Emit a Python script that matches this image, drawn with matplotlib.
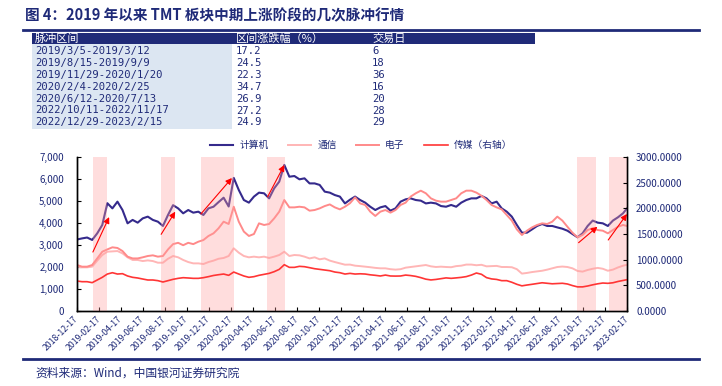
import pandas as pd
import matplotlib.pyplot as plt
from matplotlib.patches import Rectangle
from matplotlib.lines import Line2D
from matplotlib.ticker import FuncFormatter, MultipleLocator

plt.rcParams['font.family'] = ['Noto Sans CJK SC', 'DejaVu Sans']

navy = '#1f2a78'

# table of pulse intervals
periods = ['2019/3/5-2019/3/12', '2019/8/15-2019/9/9', '2019/11/29-2020/1/20',
           '2020/2/4-2020/2/25', '2020/6/12-2020/7/13', '2022/10/11-2022/11/17',
           '2022/12/29-2023/2/15']
pct_change = ['17.2', '24.5', '22.3', '34.7', '26.9', '27.2', '24.9']
trade_days = ['6', '18', '36', '16', '20', '28', '29']

# series, sampled every two weeks from 2018-12-17, last point 2023-02-17
dates = list(pd.date_range('2018-12-17', periods=109, freq='14D')) + [pd.Timestamp('2023-02-17')]

computer = [3250, 3300, 3340, 3230, 3530, 3910, 4900, 4665, 4970, 4590, 3985, 4140, 4015, 4210,
            4290, 4140, 4060, 3865, 4365, 4810, 4665, 4440, 4590, 4470, 4515, 4365, 4665, 4740,
            4950, 5150, 4750, 6050, 5500, 5045, 4925, 5200, 5380, 5350, 5120, 5575, 5880, 6640,
            6105, 6135, 5985, 6030, 5800, 5800, 5730, 5425, 5380, 5270, 5200, 4890,
            5060, 5200, 5045, 4925, 4740, 4590, 4710, 4770, 4560, 4665, 4970, 5075, 5120, 5045,
            5015, 4890, 4925, 4890, 4770, 4740, 4820, 4740, 4925, 5045, 5120, 5120, 5230,
            5120, 4890, 4970, 4665, 4515, 4290, 3910, 3560, 3560, 3710, 3865, 3955, 3865, 3865,
            3800, 3740, 3650, 3500, 3350, 3530, 3865, 4110, 4015, 3985, 3865, 4110, 4260, 4440,
            4665]
telecom = [2015, 1985, 1985, 2015, 2290, 2545, 2695, 2710, 2725, 2620, 2440, 2320, 2320, 2270,
           2300, 2270, 2195, 2195, 2375, 2500, 2440, 2320, 2225, 2165, 2165, 2135, 2225, 2290,
           2375, 2410, 2500, 2850, 2650, 2500, 2440, 2470, 2440, 2470, 2410, 2470, 2545, 2695,
           2500, 2545, 2530, 2470, 2390, 2440, 2350, 2390, 2290, 2225, 2165, 2105,
           2110, 2060, 2040, 2015, 1990, 1960, 1940, 1940, 1900, 1880, 1900, 1970, 2000, 2030,
           2060, 2090, 2030, 2000, 2015, 2000, 1990, 2040, 2060, 2110, 2110, 2080, 2100,
           2030, 2040, 2050, 2000, 2000, 1990, 1900, 1700, 1730, 1770, 1800, 1830, 1880, 1940,
           2000, 2020, 2000, 1940, 1820, 1790, 1865, 1920, 1960, 1920, 1830, 1880, 1980, 2060,
           2100]
electronics = [2090, 2015, 2015, 2090, 2390, 2695, 2800, 2895, 2865, 2725, 2470, 2390, 2390, 2440,
               2500, 2530, 2470, 2500, 2800, 3040, 3100, 2990, 3100, 3040, 3150, 3225, 3410, 3530,
               3760, 4060, 3955, 4740, 4060, 3610, 3410, 3500, 3985, 3910, 3955, 4210, 4515, 5045,
               4710, 4710, 4740, 4710, 4560, 4590, 4665, 4770, 4845, 4710, 4620, 4740,
               4900, 5165, 4890, 4820, 4515, 4320, 4515, 4590, 4470, 4590, 4820, 4925, 5200, 5350,
               5470, 5350, 5120, 5015, 4970, 4970, 5045, 5120, 5350, 5470, 5470, 5380, 5240,
               5045, 4820, 4710, 4620, 4365, 4110, 3710, 3455, 3650, 3800, 3910, 3985, 3955, 4060,
               4290, 4110, 3830, 3560, 3350, 3455, 3680, 3760, 3680, 3650, 3530, 3680, 3830, 3910,
               3865]
media = [584, 571, 571, 552, 604, 656, 720, 746, 720, 727, 682, 656, 643, 623,
         604, 604, 591, 565, 591, 617, 636, 649, 643, 636, 636, 649, 669, 692,
         707, 720, 695, 759, 720, 682, 656, 669, 695, 714, 733, 766, 811, 902,
         850, 850, 870, 863, 844, 824, 811, 798, 785, 759, 746, 720,
         733, 720, 725, 720, 705, 695, 682, 700, 682, 680, 682, 700, 690, 675,
         650, 620, 605, 615, 630, 645, 636, 645, 655, 670, 700, 740, 715,
         650, 625, 615, 591, 591, 560, 520, 490, 506, 520, 535, 550, 540, 530,
         535, 540, 526, 495, 470, 470, 487, 510, 530, 545, 539, 550, 575, 595,
         610]

# shaded pulse windows and arrows (start, end)
shade_start = ['2019-01-31', '2019-08-07', '2019-11-26', '2020-05-27', '2022-10-02', '2022-12-29']
shade_end = ['2019-03-09', '2019-09-13', '2020-02-25', '2020-07-16', '2022-11-24', '2023-02-17']
arrow_x0 = ['2019-01-30', '2019-08-07', '2019-11-25', '2020-05-28', '2022-10-06', '2022-12-27']
arrow_y0 = [2680, 3485, 4410, 5195, 3105, 3227]
arrow_x1 = ['2019-03-16', '2019-09-15', '2020-02-19', '2020-07-13', '2022-11-27', '2023-02-17']
arrow_y1 = [4270, 4515, 6045, 6636, 3830, 4410]

fig = plt.figure(figsize=(7.22, 3.86), dpi=100)
W, H = 722, 386


def fx(x):
    return x / W


def fy(y):
    return 1 - y / H


# title and rule
fig.text(fx(25), fy(15), '图 4：2019 年以来 TMT 板块中期上涨阶段的几次脉冲行情',
         fontsize=10.5, fontweight='bold', color=navy, va='center')
fig.add_artist(Line2D([fx(23), fx(699)], [fy(30), fy(30)], color=navy, lw=2))

# table
mono = ['DejaVu Sans Mono', 'Noto Sans CJK SC']
fig.add_artist(Rectangle((fx(32), fy(44)), fx(503), 11 / H, color=navy, lw=0))
fig.add_artist(Rectangle((fx(32), fy(129)), fx(200), 85 / H, color='#dce6f2', lw=0))
col_x = [35, 236, 372]
fig.text(fx(col_x[0]), fy(38.5), '脉冲区间', color='white', fontsize=8, va='center')
fig.text(fx(col_x[1]), fy(38.5), '区间涨跌幅（%）', color='white', fontsize=8, va='center')
fig.text(fx(col_x[2]), fy(38.5), '交易日', color='white', fontsize=8, va='center')
for i in range(len(periods)):
    yy = fy(51 + 11.9 * i)
    fig.text(fx(col_x[0]), yy, periods[i], color=navy, fontsize=7.6, va='center', family=mono)
    fig.text(fx(col_x[1]), yy, pct_change[i], color=navy, fontsize=7.6, va='center', family=mono)
    fig.text(fx(col_x[2]), yy, trade_days[i], color=navy, fontsize=7.6, va='center', family=mono)

# chart
ax = fig.add_axes([fx(77), fy(311), 550 / W, 154 / H])
ax2 = ax.twinx()

l1, = ax.plot(dates, computer, color='#352a8c', lw=1.5, label='计算机', zorder=2)
l2, = ax.plot(dates, telecom, color='#ffb6b6', lw=1.4, label='通信', zorder=2)
l3, = ax.plot(dates, electronics, color='#ff8a8a', lw=1.4, label='电子', zorder=2)
l4, = ax2.plot(dates, media, color='#ff3535', lw=1.2, label='传媒（右轴）')

for s, e in zip(shade_start, shade_end):
    ax.axvspan(pd.Timestamp(s), pd.Timestamp(e), color='#ff9f9f', alpha=0.35, lw=0, zorder=3)

for x0, y0, x1, y1 in zip(arrow_x0, arrow_y0, arrow_x1, arrow_y1):
    ax.annotate('', xy=(pd.Timestamp(x1), y1), xytext=(pd.Timestamp(x0), y0),
                arrowprops=dict(arrowstyle='-|>', color='red', lw=0.8, mutation_scale=9,
                                shrinkA=0, shrinkB=0), zorder=6)

ax.set_xlim(dates[0], dates[-1])
ax.set_ylim(0, 7000)
ax2.set_ylim(0, 3000)
ax.yaxis.set_major_locator(MultipleLocator(1000))
ax2.yaxis.set_major_locator(MultipleLocator(500))
ax.yaxis.set_major_formatter(FuncFormatter(lambda v, p: f'{v:,.0f}'))
ax2.yaxis.set_major_formatter(FuncFormatter(lambda v, p: f'{v:.4f}'))

xt = pd.date_range('2018-12-17', '2023-02-17', freq=pd.DateOffset(months=2))
ax.set_xticks(xt)
ax.set_xticklabels([d.strftime('%Y-%m-%d') for d in xt], rotation=45, ha='right',
                   va='center', rotation_mode='anchor')

ax.tick_params(axis='x', direction='in', length=3, labelsize=6.3, labelcolor=navy, pad=5)
ax.tick_params(axis='y', direction='in', length=3, labelsize=7, labelcolor=navy, pad=9.5)
ax2.tick_params(axis='y', direction='in', length=3, labelsize=7, labelcolor=navy, pad=6.5)

for a in (ax, ax2):
    a.spines['top'].set_visible(False)
    for sp in ('left', 'right', 'bottom'):
        a.spines[sp].set_linewidth(1.0)

ax.legend([l1, l2, l3, l4], ['计算机', '通信', '电子', '传媒（右轴）'], loc='center',
          bbox_to_anchor=(fx(361), fy(145)), bbox_transform=fig.transFigure, ncol=4,
          frameon=False, fontsize=7, handlelength=2.4, columnspacing=2.0, handletextpad=0.6,
          labelcolor=navy)

# footer
fig.add_artist(Line2D([fx(23), fx(699)], [fy(359), fy(359)], color=navy, lw=2))
fig.text(fx(35), fy(373), '资料来源：Wind，中国银河证券研究院', fontsize=8.5, color=navy,
         style='italic', va='center')

fig.savefig('out.png', dpi=100)
